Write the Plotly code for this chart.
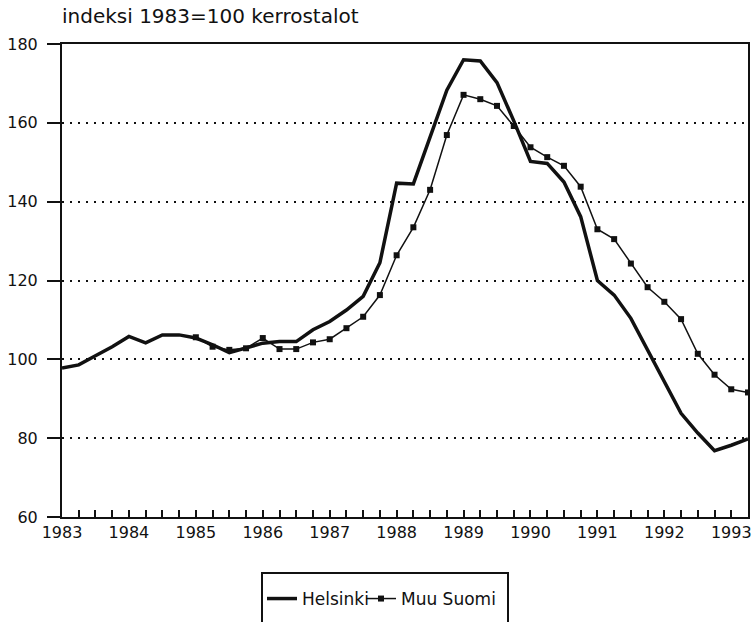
import plotly.graph_objects as go

title_text = "indeksi 1983=100 kerrostalot"
series_names = ["Helsinki", "Muu Suomi"]
year_ticks = list(range(1983, 1994))
year_labels = [str(y) for y in year_ticks]
y_ticks = [60, 80, 100, 120, 140, 160, 180]

# quarterly observations 1983 Q1 ... 1993 Q2
quarters = [year + q / 4 for year in range(1983, 1994) for q in range(4)][:42]
helsinki = [97.8, 98.6, 100.9, 103.2, 105.8, 104.2, 106.2, 106.2, 105.4, 103.7,
            101.7, 102.8, 104.1, 104.5, 104.5, 107.5, 109.6, 112.5, 116.0, 124.5,
            144.7, 144.5, 156.5, 168.3, 176.0, 175.7, 170.2, 160.5, 150.2, 149.7,
            145.0, 136.2, 120.0, 116.3, 110.4, 102.4, 94.4, 86.3, 81.3, 76.8,
            78.2, 79.8]
muu_quarters = quarters[8:]
muu_suomi = [105.6, 103.2, 102.4, 102.8, 105.4, 102.6, 102.6, 104.3, 105.1, 107.9,
             110.8, 116.3, 126.4, 133.5, 143.0, 156.9, 167.1, 166.0, 164.3, 159.2,
             153.8, 151.3, 149.1, 143.8, 133.0, 130.5, 124.3, 118.3, 114.6, 110.2,
             101.4, 96.1, 92.4, 91.6]

FONT = "DejaVu Sans"
INK = "#111111"

fig = go.Figure()
fig.add_trace(go.Scatter(
    x=quarters, y=helsinki, name=series_names[0], mode="lines",
    line=dict(color=INK, width=3.5), legend="legend",
))
fig.add_trace(go.Scatter(
    x=muu_quarters, y=muu_suomi, name=series_names[1], mode="lines+markers",
    line=dict(color=INK, width=1.5),
    marker=dict(symbol="square", size=6, color=INK), legend="legend2",
))

W, H = 754, 622
L, R, T, B = 62, 6, 44, 105
pw, ph = W - L - R, H - T - B


def px_x(p):
    return (p - L) / pw


def px_y(p):
    return (H - B - p) / ph


legend_common = dict(orientation="h", xanchor="left",
                     y=px_y(599), yanchor="middle",
                     font=dict(family=FONT, size=17, color=INK),
                     bgcolor="rgba(0,0,0,0)", borderwidth=0, itemwidth=30)

fig.update_layout(
    width=W, height=H,
    margin=dict(l=L, r=R, t=T, b=B, pad=0, autoexpand=False),
    paper_bgcolor="white", plot_bgcolor="white",
    font=dict(family=FONT, size=16, color=INK),
    title=dict(text=title_text, x=0, xref="paper", xanchor="left",
               y=1 - 16 / H, yref="container", yanchor="middle",
               font=dict(family=FONT, size=20, color=INK)),
    showlegend=True,
    legend=dict(x=px_x(262), **legend_common),
    legend2=dict(x=px_x(361), **legend_common),
    shapes=[dict(type="rect", xref="paper", yref="paper",
                 x0=px_x(262), x1=px_x(508), y0=px_y(573), y1=px_y(660),
                 line=dict(color=INK, width=2), fillcolor="rgba(0,0,0,0)")],
)

fig.update_xaxes(
    range=[1983, 1993.25], automargin=False,
    tickvals=year_ticks, ticktext=year_labels,
    ticks="inside", ticklen=7, tickwidth=1.5, tickcolor=INK,
    minor=dict(tick0=1983, dtick=0.25, ticks="inside", ticklen=7,
               tickwidth=1.5, tickcolor=INK, showgrid=False),
    showline=True, linewidth=2, linecolor=INK, mirror=True,
    showgrid=False, zeroline=False,
    tickfont=dict(family=FONT, size=16, color=INK),
)
fig.update_yaxes(
    range=[60, 180], automargin=False,
    tickvals=y_ticks, ticktext=[str(v) for v in y_ticks],
    ticks="outside", ticklen=13, tickwidth=2, tickcolor=INK,
    ticklabelstandoff=6,
    showline=True, linewidth=2, linecolor=INK, mirror=True,
    showgrid=True, gridcolor=INK, gridwidth=2, griddash="2px,6px",
    zeroline=False,
    tickfont=dict(family=FONT, size=16, color=INK),
)

fig.write_html("out.html",
               config={"displayModeBar": False},
               post_script="document.body.style.margin='0';"
                           "document.body.style.overflow='hidden';")
